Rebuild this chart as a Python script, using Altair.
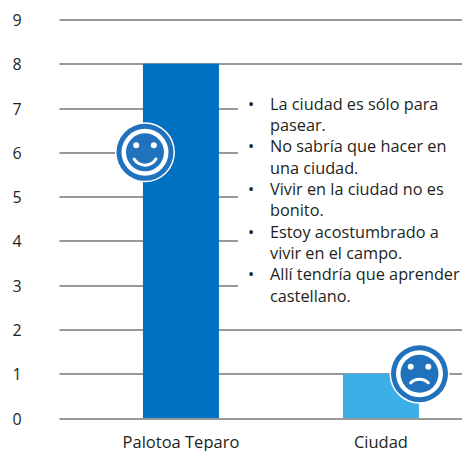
import altair as alt
import pandas as pd

categories = ["Palotoa Teparo", "Ciudad"]
values = [8, 1]
colors = ["#0070C0", "#3CB0E6"]
y_ticks = [0, 1, 2, 3, 4, 5, 6, 7, 8, 9]
bullet_lines = [
    "La ciudad es sólo para", "pasear.",
    "No sabría que hacer en", "una ciudad.",
    "Vivir en la ciudad no es", "bonito.",
    "Estoy acostumbrado a", "vivir en el campo.",
    "Allí tendría que aprender", "castellano.",
]
bullet_rows = [0, 2, 4, 6, 8]
face_levels = [6, 1]

FONT = "Open Sans"
TEXT = "#231F20"
FACE = "#1F72BB"
LINE_H = 21.35
TEXT_TOP = 77
W, H = 403, 398.5
y_scale = alt.Scale(domain=[0, 9], range=[H, 0], nice=False)
x_scale = alt.Scale(domain=categories, paddingInner=0.62, paddingOuter=0.3175, align=0.661)
df = pd.DataFrame({"cat": categories, "val": values, "color": colors})

y_axis = alt.Axis(values=y_ticks, format="d", domain=False, ticks=False, tickSize=0,
                  labelAlign="left", labelPadding=47, labelFont=FONT, labelFontSize=16,
                  labelColor=TEXT, labelOffset=1, grid=True, gridColor="#333333", gridWidth=1, gridOpacity=1)

bars = alt.Chart(df).mark_bar().encode(
    x=alt.X("cat:N", scale=x_scale, sort=categories, title=None,
            axis=alt.Axis(labelAngle=0, domain=False, ticks=False, labelPadding=16,
                          labelFont=FONT, labelFontSize=16.5, labelColor=TEXT, grid=False)),
    y=alt.Y("val:Q", scale=y_scale, title=None, axis=y_axis),
    color=alt.Color("color:N", scale=None),
)

mask = alt.Chart(df.head(1)).mark_rect(color="white").encode(
    x=alt.value(179), x2=alt.value(W), y=alt.value(67), y2=alt.value(300))

text_block = alt.Chart(df.head(1)).mark_text(
    text=bullet_lines, font=FONT, fontSize=16.3, color=TEXT, align="left", baseline="top", lineHeight=LINE_H
).encode(x=alt.value(211), y=alt.value(TEXT_TOP))
bullet_layers = [
    alt.Chart(df.head(1)).mark_text(
        text="•", font=FONT, fontSize=16.3, color=TEXT, align="left", baseline="top", lineHeight=LINE_H
    ).encode(x=alt.value(189), y=alt.value(TEXT_TOP + r * LINE_H))
    for r in bullet_rows
]


def face(level, cx, happy):
    d = pd.DataFrame({"val": [level]})
    y = alt.Y("val:Q", scale=y_scale, title=None, axis=y_axis)
    def disc(r, col):
        return alt.Chart(d).mark_point(shape="circle", filled=True, opacity=1, color=col, size=4 * r * r).encode(
            x=alt.value(cx), y=y)
    def eye(dx):
        return alt.Chart(d).mark_point(shape="circle", filled=True, opacity=1, color="white", size=36).encode(
            x=alt.value(cx + dx), y=y, yOffset=alt.value(-7))
    if happy:
        mouth = alt.Chart(d).mark_arc(color="white", radius=14.3, radius2=11.3, theta=2.0, theta2=4.28, cornerRadius=1.5).encode(
            x=alt.value(cx), y=y)
    else:
        mouth = alt.Chart(d).mark_arc(color="white", radius=14, radius2=11, theta=5.38, theta2=7.18, cornerRadius=1.5).encode(
            x=alt.value(cx), y=y, yOffset=alt.value(18))
    return [disc(30, "white"), disc(28.5, FACE), disc(23.5, "white"), disc(19, FACE), eye(-8.8), eye(8.8), mouth]


layers = [bars, mask, text_block] + bullet_layers + face(face_levels[0], 86, True) + face(face_levels[1], 360.5, False)

chart = alt.layer(*layers).properties(
    width=W, height=H,
    padding={"left": 51, "top": 11.5, "right": 0, "bottom": 33},
    autosize=alt.AutoSizeParams(type="none"),
).configure_view(stroke=None)

chart.save("out.html", embed_options={"renderer": "svg", "actions": False})
